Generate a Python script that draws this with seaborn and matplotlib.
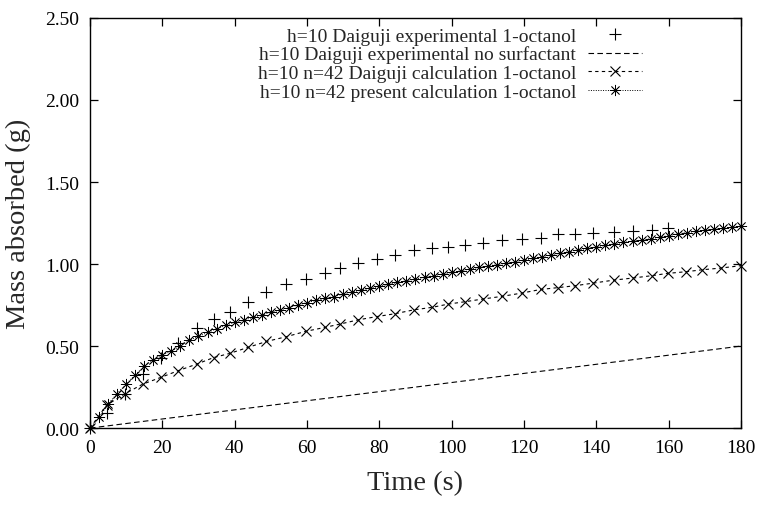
import numpy as np
import matplotlib
matplotlib.use("Agg")
import matplotlib.pyplot as plt
import seaborn as sns

# experimental sampling times (s), shared by the Daiguji data and calculation
exp_time = [0, 4.6, 9.7, 14.6, 19.6, 24.4, 29.5, 34.2, 38.6, 43.7, 48.8, 54.1,
            59.7, 65.0, 69.1, 74.2, 79.4, 84.3, 89.6, 94.6, 99.1, 103.6, 108.7,
            113.9, 119.4, 124.6, 129.3, 134.2, 139.2, 144.8, 150.2, 155.3, 159.7,
            164.7, 169.3, 174.6, 180.0]

# h=10 Daiguji experimental 1-octanol (first 33 times)
exp_octanol = [0, 0.09, 0.21, 0.33, 0.43, 0.52, 0.61, 0.665, 0.71, 0.766, 0.83,
               0.88, 0.91, 0.946, 0.974, 1.004, 1.03, 1.055, 1.087, 1.098, 1.106,
               1.118, 1.128, 1.148, 1.152, 1.159, 1.183, 1.183, 1.189, 1.197,
               1.199, 1.209, 1.218]

# h=10 Daiguji experimental no surfactant
nosurf_time = [0, 180]
nosurf_mass = [0, 0.50]

# h=10 n=42 Daiguji calculation 1-octanol
daiguji_calc = [0, 0.14, 0.21, 0.268, 0.309, 0.35, 0.39, 0.43, 0.455, 0.492, 0.528,
                0.556, 0.59, 0.614, 0.634, 0.66, 0.68, 0.697, 0.721, 0.736, 0.756,
                0.77, 0.787, 0.803, 0.823, 0.845, 0.856, 0.868, 0.884, 0.902,
                0.915, 0.929, 0.943, 0.953, 0.965, 0.976, 0.99]

# h=10 n=42 present calculation 1-octanol (every 2.5 s)
present_time = np.arange(0, 180.1, 2.5)
present_calc = [0, 0.065, 0.146, 0.21, 0.268, 0.325, 0.376, 0.415, 0.445, 0.47,
                0.50, 0.535, 0.559, 0.583, 0.606, 0.627, 0.644, 0.658, 0.675,
                0.689, 0.705, 0.72, 0.735, 0.75, 0.765, 0.778, 0.79, 0.802, 0.817,
                0.83, 0.841, 0.852, 0.864, 0.876, 0.888, 0.898, 0.909, 0.919,
                0.929, 0.939, 0.949, 0.959, 0.969, 0.979, 0.988, 0.996, 1.004,
                1.014, 1.024, 1.035, 1.045, 1.056, 1.066, 1.076, 1.086, 1.095,
                1.105, 1.114, 1.123, 1.132, 1.14, 1.146, 1.155, 1.163, 1.173,
                1.185, 1.192, 1.199, 1.207, 1.213, 1.218, 1.224, 1.232]

sns.set_style("ticks")
plt.rcParams['font.family'] = ['Liberation Serif', 'DejaVu Serif']

fig = plt.figure(figsize=(7.58, 5.06), dpi=100)
ax = fig.add_axes([0.1187, 0.152, 0.8589, 0.8105])

mk = dict(color='black', markeredgecolor='black', estimator=None, sort=False,
          clip_on=False, ax=ax)

sns.lineplot(x=exp_time[:len(exp_octanol)], y=exp_octanol, marker='+',
             markersize=8.5, markeredgewidth=0.8, linestyle='none',
             label='h=10 Daiguji experimental 1-octanol', **mk)
sns.lineplot(x=nosurf_time, y=nosurf_mass, color='black', linewidth=0.8,
             linestyle=(0, (5, 3)), estimator=None, sort=False, ax=ax,
             label='h=10 Daiguji experimental no surfactant')
sns.lineplot(x=exp_time, y=daiguji_calc, marker='x', markersize=6.5,
             markeredgewidth=0.8, linewidth=0.8, linestyle=(0, (3, 3)),
             label='h=10 n=42 Daiguji calculation 1-octanol', **mk)
sns.lineplot(x=present_time, y=present_calc, marker=(8, 2, 0), markersize=8,
             markeredgewidth=0.55, linewidth=0.7, linestyle=(0, (1, 1.5)),
             label='h=10 n=42 present calculation 1-octanol', **mk)

ax.set_xlim(0, 180)
ax.set_ylim(0, 2.5)
ax.set_xticks(range(0, 181, 20))
ax.set_yticks(np.arange(0, 2.51, 0.5))
ax.set_yticklabels([f"{v:.2f}" for v in np.arange(0, 2.51, 0.5)])
ax.tick_params(direction='in', length=6, width=0.9, top=True, right=True,
               labelsize=14, pad=8, colors='black')
for s in ax.spines.values():
    s.set_linewidth(1.0)
    s.set_color('black')

ax.set_xlabel('Time (s)', fontsize=20.5, labelpad=10)
ax.set_ylabel('Mass absorbed (g)', fontsize=20.5, labelpad=10)

leg = ax.legend(loc='upper right', bbox_to_anchor=(0.848, 0.978), frameon=False,
                markerfirst=False, fontsize=14, handlelength=2.8,
                handletextpad=0.6, labelspacing=0.05, borderaxespad=0,
                borderpad=0)

fig.savefig('out.png', dpi=100)
